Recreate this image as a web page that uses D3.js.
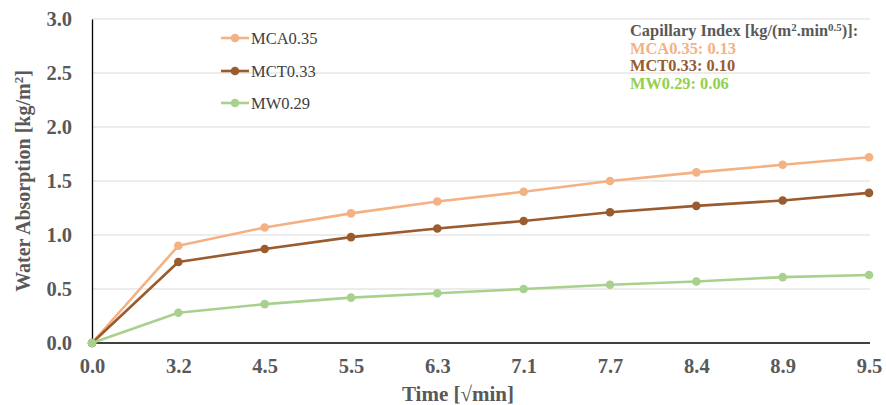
<!DOCTYPE html>
<html><head><meta charset="utf-8">
<script src="https://cdn.jsdelivr.net/npm/d3@7"></script>
<style>body{margin:0;background:#fff}svg{display:block}</style>
</head><body>
<script>
const categories = ["0.0","3.2","4.5","5.5","6.3","7.1","7.7","8.4","8.9","9.5"];
const seriesNames = ["MCA0.35","MCT0.33","MW0.29"];
const mca = [0,0.90,1.07,1.20,1.31,1.40,1.50,1.58,1.65,1.72];
const mct = [0,0.75,0.87,0.98,1.06,1.13,1.21,1.27,1.32,1.39];
const mw  = [0,0.28,0.36,0.42,0.46,0.50,0.54,0.57,0.61,0.63];
const yTicks = [0,0.5,1.0,1.5,2.0,2.5,3.0];
const capIndex = ["0.13","0.10","0.06"];

const W=886,H=405;
const lineColors=["#F4B183","#9A5B2E","#A9D18E"];
const textColors=["#F4B183","#9A5B2E","#92D050"];
const series=[mca,mct,mw];
const svg=d3.select("body").append("svg").attr("width",W).attr("height",H);
const font="'Liberation Serif','Times New Roman',serif";
const x=d3.scalePoint().domain(categories).range([92,869]).padding(0);
const y=d3.scaleLinear().domain([0,3]).range([343,19]);

// grid
svg.append("g").selectAll("line").data(yTicks.slice(1)).join("line")
 .attr("x1",92).attr("x2",870).attr("y1",d=>y(d)).attr("y2",d=>y(d))
 .attr("stroke","#d9d9d9").attr("stroke-width",1);

// axes
const yAxis=svg.append("g").attr("transform","translate(92,0)")
 .call(d3.axisLeft(y).tickValues(yTicks).tickFormat(d3.format(".1f")).tickSize(0).tickPadding(20));
yAxis.select(".domain").attr("stroke","#000").attr("stroke-width",1.3);
yAxis.selectAll("text").attr("font-family",font).attr("font-weight","bold").attr("font-size",20.5).attr("fill","#595959");
const xAxis=svg.append("g").attr("transform","translate(0,343)")
 .call(d3.axisBottom(x).tickSize(0).tickPadding(15));
xAxis.select(".domain").attr("stroke","#000").attr("stroke-width",1.3).attr("d","M92,0H870");
xAxis.selectAll("text").attr("font-family",font).attr("font-weight","bold").attr("font-size",20.5).attr("fill","#595959");

// titles
svg.append("text").attr("x",458).attr("y",401).attr("text-anchor","middle")
 .attr("font-family",font).attr("font-weight","bold").attr("font-size",21).attr("fill","#595959")
 .text("Time [√min]");
const yt=svg.append("text").attr("transform","translate(30,181) rotate(-90)").attr("text-anchor","middle")
 .attr("font-family",font).attr("font-weight","bold").attr("font-size",20).attr("fill","#595959");
yt.append("tspan").text("Water Absorption [kg/m");
yt.append("tspan").attr("font-size",13).attr("dy",-7).text("2");
yt.append("tspan").attr("dy",7).text("]");

// lines
const line=d3.line().x((d,i)=>x(categories[i])).y(d=>y(d));
series.forEach((s,k)=>{
  svg.append("path").datum(s).attr("d",line).attr("fill","none")
   .attr("stroke",lineColors[k]).attr("stroke-width",2.6).attr("stroke-linejoin","round");
});
series.forEach((s,k)=>{
  svg.append("g").selectAll("circle").data(s).join("circle")
   .attr("cx",(d,i)=>x(categories[i])).attr("cy",d=>y(d)).attr("r",4.3).attr("fill",lineColors[k]);
});

// legend
const legY=[38,71,103];
seriesNames.forEach((n,k)=>{
  const g=svg.append("g");
  g.append("line").attr("x1",221).attr("x2",249).attr("y1",legY[k]).attr("y2",legY[k]).attr("stroke",lineColors[k]).attr("stroke-width",2.6);
  g.append("circle").attr("cx",235).attr("cy",legY[k]).attr("r",4.3).attr("fill",lineColors[k]);
  g.append("text").attr("x",251).attr("y",legY[k]+5.5).attr("font-family",font).attr("font-size",16.5).attr("fill","#404040").text(n);
});

// capillary index text
const ct=svg.append("text").attr("x",630).attr("y",36).attr("font-family",font).attr("font-weight","bold").attr("font-size",16.4).attr("fill","#595959");
ct.append("tspan").text("Capillary Index [kg/(m");
ct.append("tspan").attr("font-size",11).attr("dy",-5).text("2");
ct.append("tspan").attr("dy",5).text(".min");
ct.append("tspan").attr("font-size",11).attr("dy",-5).text("0.5");
ct.append("tspan").attr("dy",5).text(")]:");
seriesNames.forEach((n,k)=>{
  svg.append("text").attr("x",630).attr("y",53.5+k*17.5).attr("font-family",font).attr("font-weight","bold").attr("font-size",16.4)
   .attr("fill",textColors[k]).text(n+": "+capIndex[k]);
});
</script>
</body></html>
